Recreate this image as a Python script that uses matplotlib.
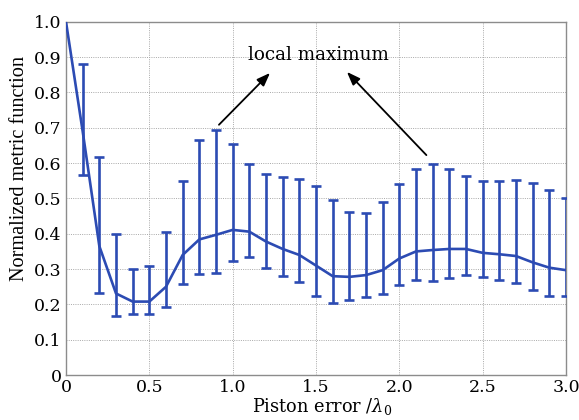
import matplotlib
matplotlib.use('Agg')
import matplotlib.pyplot as plt
import numpy as np

# ── Data ──────────────────────────────────────────────────────────────────
piston = [0.0, 0.1, 0.2, 0.3, 0.4, 0.5, 0.6, 0.7, 0.8, 0.9, 1.0,
          1.1, 1.2, 1.3, 1.4, 1.5, 1.6, 1.7, 1.8, 1.9, 2.0,
          2.1, 2.2, 2.3, 2.4, 2.5, 2.6, 2.7, 2.8, 2.9, 3.0]
metric_mean = [1.00, 0.69, 0.365, 0.231, 0.208, 0.208, 0.25, 0.34, 0.384, 0.397, 0.411,
               0.406, 0.378, 0.357, 0.34, 0.31, 0.28, 0.278, 0.283, 0.297, 0.33,
               0.35, 0.354, 0.357, 0.357, 0.346, 0.342, 0.337, 0.319, 0.304, 0.297]
metric_low = [1.00, 0.567, 0.233, 0.168, 0.174, 0.174, 0.193, 0.258, 0.287, 0.29, 0.323,
              0.334, 0.304, 0.281, 0.263, 0.225, 0.205, 0.212, 0.22, 0.23, 0.255,
              0.27, 0.265, 0.274, 0.283, 0.277, 0.27, 0.262, 0.24, 0.225, 0.225]
metric_high = [1.00, 0.881, 0.618, 0.398, 0.30, 0.31, 0.406, 0.55, 0.666, 0.694, 0.654,
               0.598, 0.568, 0.561, 0.555, 0.535, 0.497, 0.463, 0.46, 0.49, 0.54,
               0.583, 0.597, 0.583, 0.564, 0.55, 0.55, 0.552, 0.545, 0.524, 0.50]

xticks = [0, 0.5, 1.0, 1.5, 2.0, 2.5, 3.0]
xticklabels = ['0', '0.5', '1.0', '1.5', '2.0', '2.5', '3.0']
yticks = [0, 0.1, 0.2, 0.3, 0.4, 0.5, 0.6, 0.7, 0.8, 0.9, 1.0]
yticklabels = ['0', '0.1', '0.2', '0.3', '0.4', '0.5', '0.6', '0.7', '0.8', '0.9', '1.0']

BLUE = '#2c4bb3'

# ── Plot ──────────────────────────────────────────────────────────────────
plt.rcParams['mathtext.fontset'] = 'dejavuserif'
fig = plt.figure(figsize=(5.79, 4.20), dpi=100)
ax = fig.add_axes([0.114, 0.107, 0.8635, 0.841])

x = np.array(piston)
m = np.array(metric_mean)
lo = np.array(metric_low)
hi = np.array(metric_high)

ax.plot(x, m, color=BLUE, lw=1.9, zorder=3)
ax.errorbar(x[1:], m[1:], yerr=[m[1:] - lo[1:], hi[1:] - m[1:]], fmt='none',
            ecolor=BLUE, elinewidth=1.9, capsize=3.6, capthick=1.9, zorder=3)

ax.set_xlim(0, 3.0); ax.set_ylim(0, 1.0)
ax.set_xticks(xticks); ax.set_xticklabels(xticklabels)
ax.set_yticks(yticks); ax.set_yticklabels(yticklabels)
ax.tick_params(length=0, labelsize=12.5, pad=3)
for lab in ax.get_xticklabels() + ax.get_yticklabels():
    lab.set_family('DejaVu Serif')
ax.grid(True, color='#a8a8a8', linestyle=(0, (1, 1.3)), linewidth=0.7)
for sp in ax.spines.values():
    sp.set_color('#8c8c8c'); sp.set_linewidth(1.0)

ax.set_xlabel(r'Piston error /$\lambda_0$', family='DejaVu Serif', fontsize=12.8, labelpad=0)
ax.xaxis.set_label_coords(0.512, -0.058)
ax.set_ylabel('Normalized metric function', family='Liberation Serif', fontsize=14.6)
ax.yaxis.set_label_coords(-0.074, 0.586)

ax.text(1.515, 0.906, 'local maximum', family='DejaVu Serif', fontsize=13.2,
        ha='center', va='center', zorder=4)
arrow = dict(arrowstyle='-|>,head_length=0.8,head_width=0.3', color='black', lw=1.3)
ax.annotate('', xy=(1.236, 0.861), xytext=(0.906, 0.703), arrowprops=arrow)
ax.annotate('', xy=(1.674, 0.864), xytext=(2.174, 0.617), arrowprops=arrow)

plt.savefig('out.png', dpi=100, facecolor='white')
